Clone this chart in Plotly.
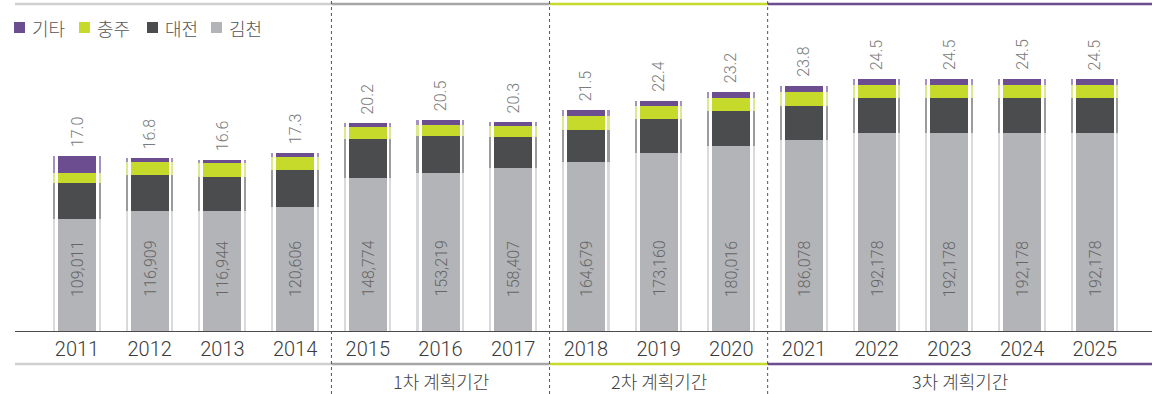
import plotly.graph_objects as go

# Annual figures per region (persons)
years = [str(y) for y in range(2011, 2026)]
kimcheon = [109011, 116909, 116944, 120606, 148774, 153219, 158407, 164679,
            173160, 180016, 186078, 192178, 192178, 192178, 192178]
daejeon = [35000, 34600, 33100, 36000, 38000, 36500, 30000, 31200,
           33100, 34100, 33100, 34100, 34100, 34100, 34100]
chungju = [9700, 12700, 13600, 12700, 11700, 10500, 11000, 13600,
           12700, 12700, 13600, 12700, 12700, 12700, 12700]
others = [16300, 3800, 2400, 3700, 3500, 4800, 3600, 5500,
          5000, 5200, 5200, 6000, 6000, 6000, 6000]

series_names = ["김천", "대전", "충주", "기타"]
legend_order = ["기타", "충주", "대전", "김천"]
periods = ["1차 계획기간", "2차 계획기간", "3차 계획기간"]

# styling
FONT = "Roboto, sans-serif"
KFONT = "Noto Sans CJK KR, sans-serif"
colors = {"김천": "#B3B4B8", "대전": "#4B4C4E", "충주": "#C6DA2C", "기타": "#6C4E90"}
strip_colors = {"김천": "#DADADC", "대전": "#9B9B9D", "충주": "#DDE98E", "기타": "#A692C2"}

W, H = 1152, 394
ML, MR, MT, MB = 15, 0, 4, 63
PX_PER_CAT = 72.7
x_lo = -(77 - ML) / PX_PER_CAT
x_hi = x_lo + (W - ML - MR) / PX_PER_CAT
Y_MAX = 318000
plot_h = H - MT - MB


def py(pix):
    """pixel row -> paper y"""
    return (H - MB - pix) / plot_h


def px(pix):
    """pixel column -> paper x"""
    return (pix - ML) / (W - ML - MR)


data = {"김천": kimcheon, "대전": daejeon, "충주": chungju, "기타": others}
fig = go.Figure()

bar_w = 38 / PX_PER_CAT
strip_w = 1.6 / PX_PER_CAT
base = [0] * len(years)
for name in series_names:
    vals = data[name]
    # main segment
    fig.add_trace(go.Bar(
        x=years, y=vals, base=base, name=name, width=bar_w, offset=-bar_w / 2,
        marker=dict(color=colors[name], line=dict(width=0)), showlegend=False,
        hoverinfo="skip"))
    # thin side strips
    for off in (-23.6 / PX_PER_CAT, 22.0 / PX_PER_CAT):
        fig.add_trace(go.Bar(
            x=years, y=vals, base=base, width=strip_w, offset=off,
            marker=dict(color=strip_colors[name], line=dict(width=0)),
            showlegend=False, hoverinfo="skip"))
    base = [b + v for b, v in zip(base, vals)]

totals = base
annotations = []
for i, (t, k) in enumerate(zip(totals, kimcheon)):
    annotations.append(dict(
        x=i, y=t, xref="x", yref="y", text=f"{t / 10000:.1f}", textangle=-90,
        showarrow=False, yanchor="bottom", xanchor="center", yshift=7,
        font=dict(family=FONT, size=16, color="#7a7a7a", weight=300)))
    annotations.append(dict(
        x=i, y=0, xref="x", yref="y", text=f"{k:,}", textangle=-90,
        showarrow=False, yanchor="bottom", xanchor="center", yshift=32,
        font=dict(family=FONT, size=16, color="#666666", weight=300)))

# period labels
bounds = [3.5, 6.5, 9.5, x_hi]
for i, label in enumerate(periods):
    annotations.append(dict(
        x=(bounds[i] + bounds[i + 1]) / 2, y=py(381), xref="x", yref="paper",
        text=label, showarrow=False, yanchor="middle",
        font=dict(family=KFONT, size=18, color="#444444", weight=300)))

# legend
legend_x = [14, 79, 147, 211]
for lx, name in zip(legend_x, legend_order):
    annotations.append(dict(
        x=px(lx + 16), y=py(28), xref="paper", yref="paper", text=name,
        showarrow=False, xanchor="left", yanchor="middle",
        font=dict(family=KFONT, size=18, color="#555555", weight=300)))

shapes = []
for lx, name in zip(legend_x, legend_order):
    shapes.append(dict(type="rect", xref="paper", yref="paper",
                       x0=px(lx), x1=px(lx + 11), y0=py(33), y1=py(22),
                       fillcolor=colors[name], line=dict(width=0)))

# period bands: top and bottom rules
seg_edges = [x_lo, 3.5, 6.5, 9.5, x_hi]
seg_colors = ["#D0D0D0", "#A6A6A6", "#C6DA2C", "#6C4E90"]
for i, c in enumerate(seg_colors):
    for yy in (py(4), py(364)):
        shapes.append(dict(type="line", xref="x", yref="paper",
                           x0=seg_edges[i], x1=seg_edges[i + 1], y0=yy, y1=yy,
                           line=dict(color=c, width=2.6)))
# dotted dividers
for b in (3.5, 6.5, 9.5):
    shapes.append(dict(type="line", xref="x", yref="paper", x0=b, x1=b,
                       y0=py(H), y1=py(1), line=dict(color="#555555", width=1, dash="dot")))

fig.update_layout(
    width=W, height=H, barmode="overlay", bargap=0,
    margin=dict(l=ML, r=MR, t=MT, b=MB),
    paper_bgcolor="white", plot_bgcolor="white",
    annotations=annotations, shapes=shapes, showlegend=False,
    xaxis=dict(type="category", range=[x_lo, x_hi], showgrid=False, zeroline=False,
               showline=True, linecolor="#4a4a4a", linewidth=1.3, ticks="",
               tickfont=dict(family=FONT, size=20, color="#3a3a3a", weight=300)),
    yaxis=dict(range=[0, Y_MAX], visible=False, showgrid=False, zeroline=False),
)

fig.write_html("out.html")
